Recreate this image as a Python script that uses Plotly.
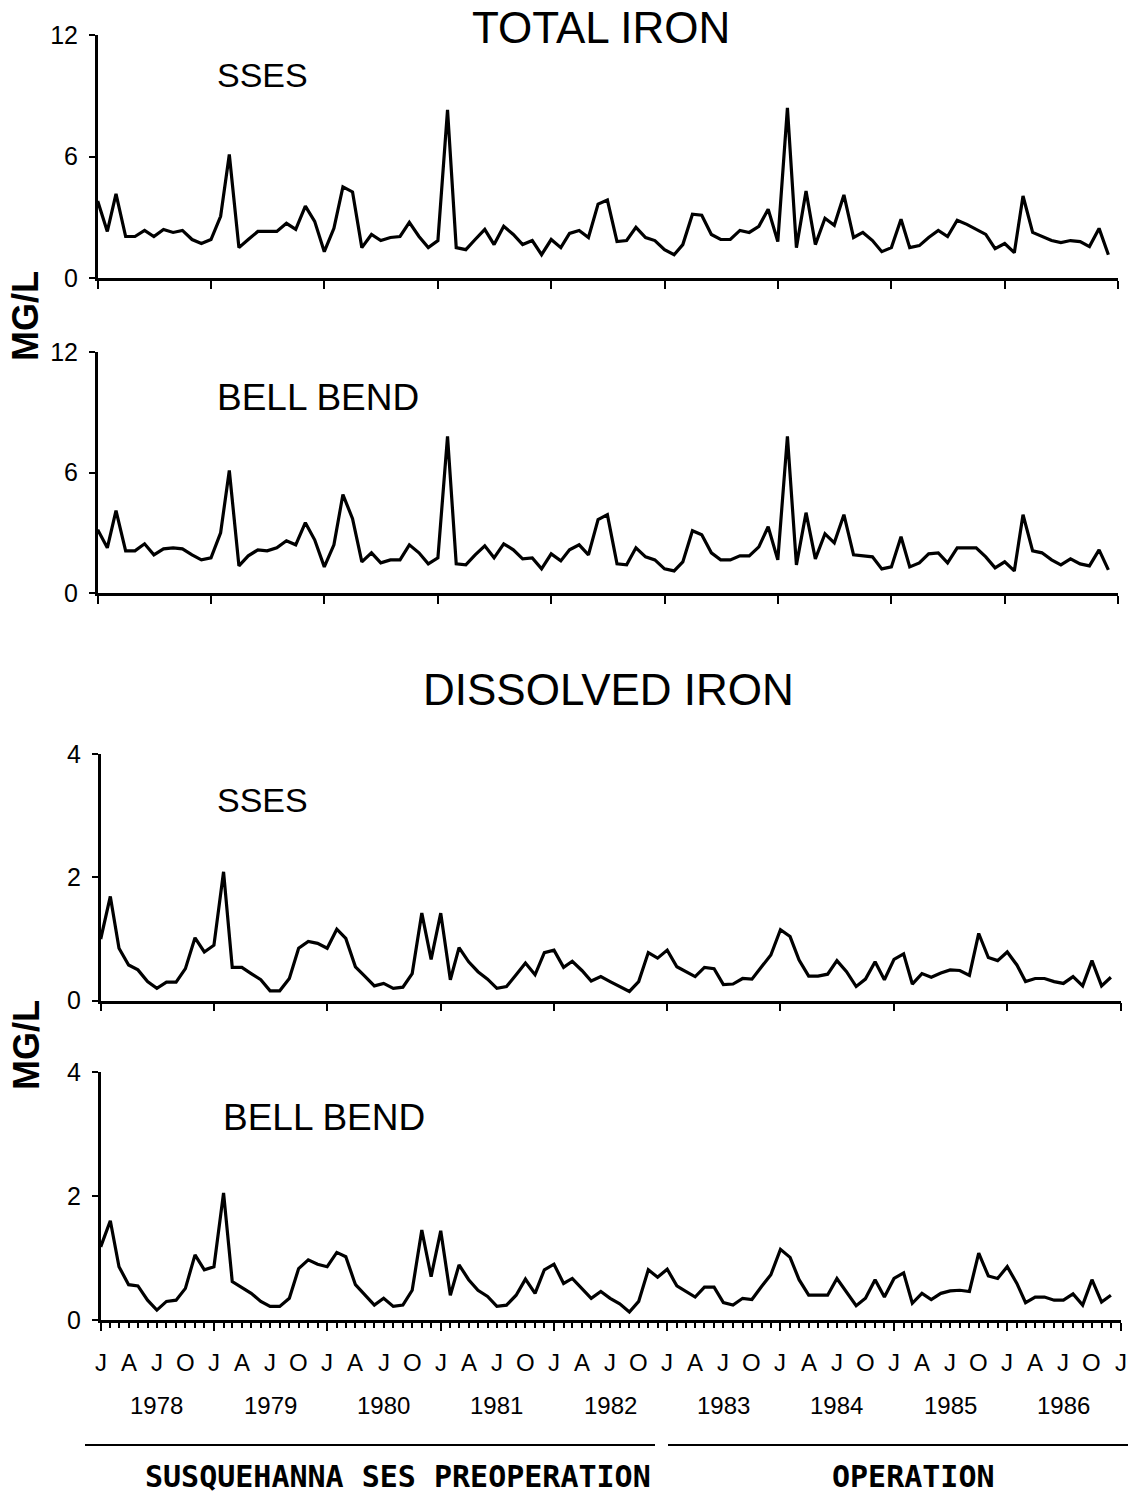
import pandas as pd
import plotly.graph_objects as go

# Monthly sampling, Jan 1978 - Dec 1986
months = pd.date_range("1978-01-01", periods=108, freq="MS")

# Total iron (mg/L)
total_sses = [
    3.8, 2.3, 4.15, 2.05, 2.05, 2.35, 2.05, 2.4, 2.25, 2.35, 1.9, 1.7,
    1.9, 3.05, 6.1, 1.5, 1.9, 2.3, 2.3, 2.3, 2.7, 2.4, 3.55, 2.8,
    1.3, 2.45, 4.5, 4.25, 1.5, 2.15, 1.85, 2.0, 2.05, 2.75, 2.05, 1.5,
    1.85, 8.3, 1.5, 1.4, 1.9, 2.4, 1.65, 2.55, 2.15, 1.65, 1.85, 1.15,
    1.9, 1.5, 2.2, 2.35, 2.0, 3.65, 3.85, 1.8, 1.85, 2.5, 2.0, 1.85,
    1.4, 1.15, 1.65, 3.15, 3.1, 2.15, 1.9, 1.9, 2.35, 2.25, 2.55, 3.4,
    1.8, 8.4, 1.5, 4.3, 1.65, 2.95, 2.6, 4.1, 2.0, 2.25, 1.85, 1.3,
    1.5, 2.9, 1.5, 1.6, 2.0, 2.35, 2.05, 2.85, 2.65, 2.4, 2.15, 1.45,
    1.7, 1.25, 4.05, 2.25, 2.05, 1.85, 1.75, 1.85, 1.8, 1.55, 2.45, 1.15,
]
total_bell = [
    3.15, 2.25, 4.1, 2.1, 2.1, 2.45, 1.9, 2.2, 2.25, 2.2, 1.9, 1.65,
    1.75, 3.0, 6.1, 1.35, 1.85, 2.15, 2.1, 2.25, 2.6, 2.4, 3.5, 2.65,
    1.3, 2.4, 4.9, 3.7, 1.55, 2.0, 1.5, 1.65, 1.65, 2.4, 2.0, 1.45,
    1.75, 7.8, 1.45, 1.4, 1.9, 2.35, 1.75, 2.45, 2.15, 1.7, 1.75, 1.2,
    1.95, 1.6, 2.15, 2.4, 1.9, 3.65, 3.9, 1.45, 1.4, 2.25, 1.8, 1.65,
    1.2, 1.1, 1.55, 3.1, 2.9, 2.0, 1.65, 1.65, 1.85, 1.85, 2.3, 3.3,
    1.65, 7.8, 1.4, 4.0, 1.7, 2.95, 2.5, 3.9, 1.9, 1.85, 1.8, 1.2,
    1.3, 2.8, 1.3, 1.5, 1.95, 2.0, 1.5, 2.25, 2.25, 2.25, 1.8, 1.25,
    1.55, 1.1, 3.9, 2.1, 2.0, 1.65, 1.4, 1.7, 1.45, 1.35, 2.15, 1.15,
]

# Dissolved iron (mg/L)
diss_sses = [
    1.0, 1.69, 0.85, 0.58, 0.5, 0.31, 0.2, 0.3, 0.3, 0.52, 1.02, 0.79,
    0.9, 2.09, 0.54, 0.54, 0.44, 0.34, 0.16, 0.16, 0.36, 0.85, 0.96, 0.93,
    0.85, 1.16, 1.01, 0.55, 0.4, 0.24, 0.28, 0.2, 0.22, 0.44, 1.42, 0.67,
    1.42, 0.34, 0.86, 0.63, 0.47, 0.35, 0.2, 0.23, 0.42, 0.61, 0.42, 0.78,
    0.82, 0.54, 0.64, 0.49, 0.32, 0.39, 0.31, 0.23, 0.15, 0.31, 0.78, 0.69,
    0.82, 0.55, 0.47, 0.39, 0.54, 0.52, 0.26, 0.27, 0.36, 0.35, 0.55, 0.74,
    1.15, 1.04, 0.66, 0.4, 0.4, 0.43, 0.65, 0.47, 0.23, 0.35, 0.63, 0.34,
    0.67, 0.76, 0.27, 0.44, 0.38, 0.45, 0.5, 0.49, 0.41, 1.09, 0.7, 0.65,
    0.79, 0.58, 0.31, 0.36, 0.36, 0.31, 0.28, 0.39, 0.24, 0.65, 0.24, 0.38,
]
diss_bell = [
    1.18, 1.6, 0.86, 0.57, 0.55, 0.32, 0.16, 0.3, 0.32, 0.51, 1.05, 0.81,
    0.86, 2.05, 0.62, 0.53, 0.43, 0.3, 0.22, 0.22, 0.35, 0.83, 0.97, 0.9,
    0.86, 1.09, 1.02, 0.57, 0.4, 0.24, 0.35, 0.22, 0.24, 0.48, 1.45, 0.7,
    1.44, 0.4, 0.89, 0.65, 0.48, 0.38, 0.22, 0.24, 0.4, 0.66, 0.43, 0.81,
    0.9, 0.59, 0.67, 0.51, 0.35, 0.46, 0.35, 0.26, 0.13, 0.3, 0.81, 0.69,
    0.82, 0.55, 0.46, 0.37, 0.53, 0.53, 0.28, 0.24, 0.35, 0.33, 0.54, 0.73,
    1.14, 1.01, 0.65, 0.4, 0.4, 0.4, 0.67, 0.46, 0.23, 0.35, 0.65, 0.37,
    0.67, 0.76, 0.27, 0.43, 0.33, 0.43, 0.47, 0.48, 0.46, 1.08, 0.71, 0.67,
    0.86, 0.59, 0.28, 0.37, 0.37, 0.32, 0.32, 0.42, 0.24, 0.65, 0.29, 0.4,
]

# Axis labels
quarter_letters = ["J", "A", "J", "O"] * 9 + ["J"]
quarter_dates = pd.date_range("1978-01-01", "1987-01-01", freq="QS")
year_labels = [str(y) for y in range(1978, 1987)]
year_mid = [f"{y}-07-01" for y in range(1978, 1987)]
year_ticks = pd.date_range("1978-01-01", "1987-01-01", freq="YS")

W, H = 1130, 1496
FONT = "Liberation Sans, Arial, sans-serif"
MONO = "DejaVu Sans Mono, monospace"


def fx(px):
    return px / W


def fy(py):
    return 1 - py / H


def text(s, x, y, size, xref="paper", angle=0, family=FONT):
    return dict(text=s, x=x, y=y, xref=xref, yref="paper", showarrow=False,
                xanchor="center", yanchor="middle", textangle=angle,
                font=dict(family=family, size=size, color="black"))


# (series, y max, x pixel span, y pixel span, station label, label position, label size)
panels = [
    (total_sses, 12, (97.7, 1118), (35, 278), "SSES", (262, 75), 34),
    (total_bell, 12, (97.7, 1118), (352, 593), "BELL BEND", (318, 397), 37),
    (diss_sses, 4, (100.7, 1120.5), (754, 1000.7), "SSES", (262, 800), 34),
    (diss_bell, 4, (100.7, 1120.5), (1072, 1320), "BELL BEND", (324, 1117), 37),
]

fig = go.Figure()
annotations = []
layout = {}
for i, (vals, ymax, (x0, x1), (ytop, ybot), label, (lx, ly), lsize) in enumerate(panels, start=1):
    xa, ya = (f"x{i}", f"y{i}") if i > 1 else ("x", "y")
    fig.add_trace(go.Scatter(
        x=months, y=vals, xaxis=xa, yaxis=ya, mode="lines",
        line=dict(color="black", width=3.2), showlegend=False, hoverinfo="skip",
    ))
    xkey = "xaxis" if i == 1 else f"xaxis{i}"
    ykey = "yaxis" if i == 1 else f"yaxis{i}"
    xcfg = dict(
        type="date", range=["1978-01-01", "1987-01-01"],
        domain=[fx(x0), fx(x1)], anchor=ya, automargin=False,
        showline=True, linecolor="black", linewidth=2.5,
        ticks="outside", tickvals=list(year_ticks), ticklen=8, tickwidth=2,
        tickcolor="black", showticklabels=False, showgrid=False, zeroline=False,
    )
    if i == 4:
        xcfg["minor"] = dict(ticks="outside", dtick="M1", tick0="1978-01-01",
                             ticklen=5, tickwidth=1.5, tickcolor="black", showgrid=False)
    ycfg = dict(
        range=[0, ymax], domain=[fy(ybot), fy(ytop)], anchor=xa, automargin=False,
        showline=True, linecolor="black", linewidth=2.5,
        ticks="outside", tickvals=[0, ymax / 2, ymax], ticklen=6, tickwidth=2,
        tickcolor="black", tickfont=dict(family=FONT, size=25, color="black"),
        ticklabelstandoff=6, showgrid=False, zeroline=False,
    )
    layout[xkey] = xcfg
    layout[ykey] = ycfg
    annotations.append(text(label, fx(lx), fy(ly), lsize))

# Group titles
annotations.append(text("TOTAL IRON", fx(601), fy(27), 44))
annotations.append(text("DISSOLVED IRON", fx(608), fy(690), 44))

# Unit labels
for yc in (316, 1045):
    annotations.append(text("<b>MG/L</b>", fx(26), fy(yc), 36, angle=-90))

# Month letters and year labels under the bottom panel
for d, t in zip(quarter_dates, quarter_letters):
    annotations.append(text(t, d, fy(1362), 24, xref="x4"))
for d, t in zip(year_mid, year_labels):
    annotations.append(text(t, d, fy(1405), 24, xref="x4"))

# Period captions
annotations.append(text("<b>SUSQUEHANNA SES PREOPERATION</b>", fx(398), fy(1476), 30, family=MONO))
annotations.append(text("<b>OPERATION</b>", fx(914), fy(1476), 30, family=MONO))

shapes = [
    dict(type="line", xref="paper", yref="paper", x0=fx(85), x1=fx(655), y0=fy(1445), y1=fy(1445),
         line=dict(color="black", width=2)),
    dict(type="line", xref="paper", yref="paper", x0=fx(668), x1=fx(1128), y0=fy(1445), y1=fy(1445),
         line=dict(color="black", width=2)),
]

fig.update_layout(
    template="none",
    width=W, height=H, margin=dict(l=0, r=0, t=0, b=0, pad=0),
    paper_bgcolor="white", plot_bgcolor="white", showlegend=False,
    annotations=annotations, shapes=shapes, **layout,
)

fig.write_html("out.html")
